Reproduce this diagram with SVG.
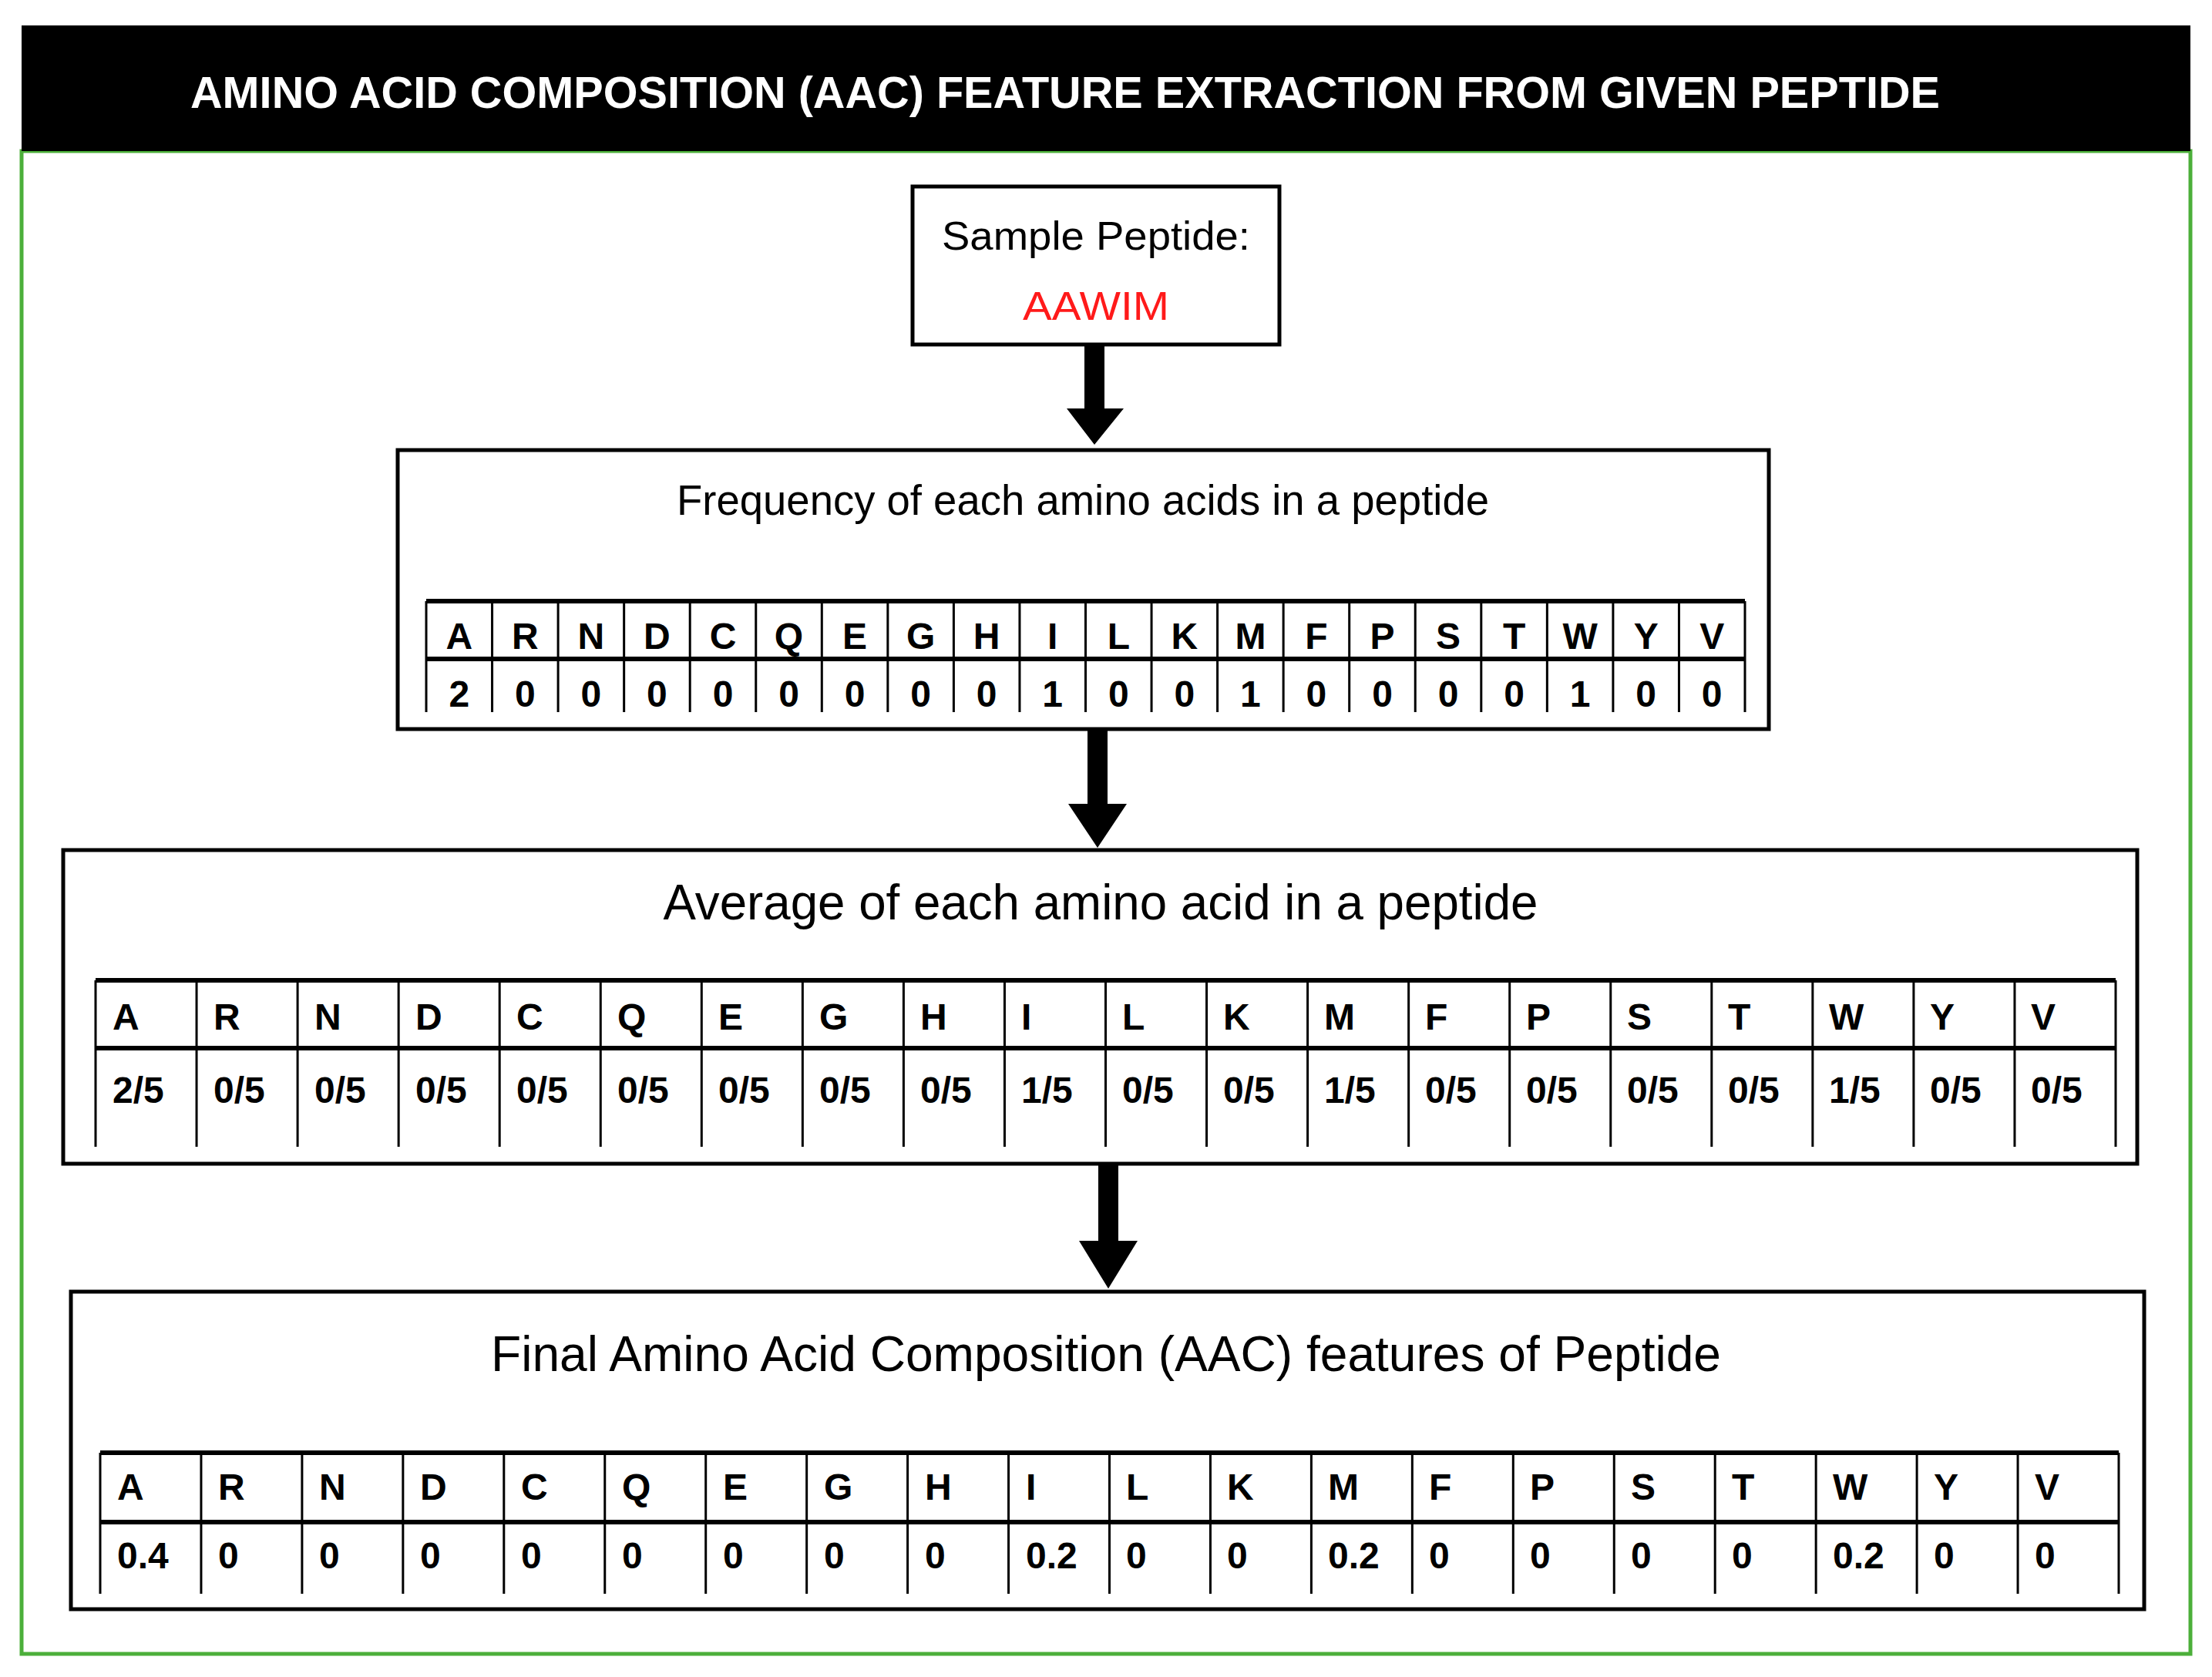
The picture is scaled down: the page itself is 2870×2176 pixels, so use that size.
<svg xmlns="http://www.w3.org/2000/svg" width="2870" height="2176" viewBox="0 0 2870 2176">
<style>
.t{font-family:"Liberation Sans",Arial,sans-serif;fill:#000}
.box{fill:#fff;stroke:#000;stroke-width:5}
.ln{stroke:#000;stroke-width:3}
.th{stroke:#000;stroke-width:6}
.c{font-size:48px;text-anchor:middle;font-weight:bold}
.l{font-size:48px;font-weight:bold}
</style>
<rect x="0" y="0" width="2870" height="2176" fill="#fff"/>
<rect x="28" y="196" width="2814" height="1950" fill="#fff" stroke="#4caf3a" stroke-width="5"/>
<g id="header">
<rect x="28" y="33" width="2814" height="163" fill="#000"/>
<text class="t" x="1382" y="140" font-size="58" font-weight="bold" text-anchor="middle" style="fill:#fff" textLength="2270" lengthAdjust="spacingAndGlyphs">AMINO ACID COMPOSITION (AAC) FEATURE EXTRACTION FROM GIVEN PEPTIDE</text>
</g>
<g id="connectors">
<polygon points="1407,447 1433,447 1433,530 1458,530 1420,577 1384,530 1407,530" fill="#000"/>
<polygon points="1411,946 1437,946 1437,1043 1462,1043 1424,1100 1386,1043 1411,1043" fill="#000"/>
<polygon points="1425,1510 1451,1510 1451,1610 1476,1610 1438,1672 1400,1610 1425,1610" fill="#000"/>
</g>
<g id="sample">
<rect class="box" x="1184" y="242" width="476" height="205"/>
<text class="t" x="1422" y="324" font-size="52" text-anchor="middle" textLength="400" lengthAdjust="spacingAndGlyphs">Sample Peptide:</text>
<text class="t" x="1422" y="415" font-size="52" text-anchor="middle" style="fill:#ff1a1a" textLength="190" lengthAdjust="spacingAndGlyphs">AAWIM</text>
</g>
<g id="frequency">
<rect class="box" x="516" y="584" width="1779" height="362"/>
<text class="t" x="1405" y="668" font-size="56" text-anchor="middle" textLength="1054" lengthAdjust="spacingAndGlyphs">Frequency of each amino acids in a peptide</text>
<line class="th" x1="553" y1="780" x2="2264" y2="780"/>
<line class="th" x1="553" y1="855" x2="2264" y2="855"/>
<path class="ln" d="M553,780V924M638.55,780V924M724.1,780V924M809.65,780V924M895.2,780V924M980.75,780V924M1066.3,780V924M1151.85,780V924M1237.4,780V924M1322.95,780V924M1408.5,780V924M1494.05,780V924M1579.6,780V924M1665.15,780V924M1750.7,780V924M1836.25,780V924M1921.8,780V924M2007.35,780V924M2092.9,780V924M2178.45,780V924M2264,780V924"/>
<text class="t c"><tspan x="595.8" y="842">A</tspan><tspan x="681.3">R</tspan><tspan x="766.9">N</tspan><tspan x="852.4">D</tspan><tspan x="938">C</tspan><tspan x="1023.5">Q</tspan><tspan x="1109.1">E</tspan><tspan x="1194.6">G</tspan><tspan x="1280.2">H</tspan><tspan x="1365.7">I</tspan><tspan x="1451.3">L</tspan><tspan x="1536.8">K</tspan><tspan x="1622.4">M</tspan><tspan x="1707.9">F</tspan><tspan x="1793.5">P</tspan><tspan x="1879">S</tspan><tspan x="1964.6">T</tspan><tspan x="2050.1">W</tspan><tspan x="2135.7">Y</tspan><tspan x="2221.2">V</tspan></text>
<text class="t c"><tspan x="595.8" y="917">2</tspan><tspan x="681.3">0</tspan><tspan x="766.9">0</tspan><tspan x="852.4">0</tspan><tspan x="938">0</tspan><tspan x="1023.5">0</tspan><tspan x="1109.1">0</tspan><tspan x="1194.6">0</tspan><tspan x="1280.2">0</tspan><tspan x="1365.7">1</tspan><tspan x="1451.3">0</tspan><tspan x="1536.8">0</tspan><tspan x="1622.4">1</tspan><tspan x="1707.9">0</tspan><tspan x="1793.5">0</tspan><tspan x="1879">0</tspan><tspan x="1964.6">0</tspan><tspan x="2050.1">1</tspan><tspan x="2135.7">0</tspan><tspan x="2221.2">0</tspan></text>
</g>
<g id="average">
<rect class="box" x="82" y="1103" width="2691" height="407"/>
<text class="t" x="1428" y="1193" font-size="64" text-anchor="middle" textLength="1135" lengthAdjust="spacingAndGlyphs">Average of each amino acid in a peptide</text>
<line class="th" x1="124" y1="1272" x2="2745" y2="1272"/>
<line class="th" x1="124" y1="1360" x2="2745" y2="1360"/>
<path class="ln" d="M124,1272V1488M255.05,1272V1488M386.1,1272V1488M517.15,1272V1488M648.2,1272V1488M779.25,1272V1488M910.3,1272V1488M1041.35,1272V1488M1172.4,1272V1488M1303.45,1272V1488M1434.5,1272V1488M1565.55,1272V1488M1696.6,1272V1488M1827.65,1272V1488M1958.7,1272V1488M2089.75,1272V1488M2220.8,1272V1488M2351.85,1272V1488M2482.9,1272V1488M2613.95,1272V1488M2745,1272V1488"/>
<text class="t l"><tspan x="146" y="1336">A</tspan><tspan x="277">R</tspan><tspan x="408">N</tspan><tspan x="539">D</tspan><tspan x="670">C</tspan><tspan x="801">Q</tspan><tspan x="932">E</tspan><tspan x="1063">G</tspan><tspan x="1194">H</tspan><tspan x="1325">I</tspan><tspan x="1456">L</tspan><tspan x="1587">K</tspan><tspan x="1718">M</tspan><tspan x="1849">F</tspan><tspan x="1980">P</tspan><tspan x="2111">S</tspan><tspan x="2242">T</tspan><tspan x="2373">W</tspan><tspan x="2504">Y</tspan><tspan x="2635">V</tspan></text>
<text class="t l"><tspan x="146" y="1431">2/5</tspan><tspan x="277">0/5</tspan><tspan x="408">0/5</tspan><tspan x="539">0/5</tspan><tspan x="670">0/5</tspan><tspan x="801">0/5</tspan><tspan x="932">0/5</tspan><tspan x="1063">0/5</tspan><tspan x="1194">0/5</tspan><tspan x="1325">1/5</tspan><tspan x="1456">0/5</tspan><tspan x="1587">0/5</tspan><tspan x="1718">1/5</tspan><tspan x="1849">0/5</tspan><tspan x="1980">0/5</tspan><tspan x="2111">0/5</tspan><tspan x="2242">0/5</tspan><tspan x="2373">1/5</tspan><tspan x="2504">0/5</tspan><tspan x="2635">0/5</tspan></text>
</g>
<g id="final">
<rect class="box" x="92" y="1676" width="2690" height="412"/>
<text class="t" x="1435" y="1779" font-size="64" text-anchor="middle" textLength="1596" lengthAdjust="spacingAndGlyphs">Final Amino Acid Composition (AAC) features of Peptide</text>
<line class="th" x1="130" y1="1885" x2="2749" y2="1885"/>
<line class="th" x1="130" y1="1975" x2="2749" y2="1975"/>
<path class="ln" d="M130,1885V2068M260.95,1885V2068M391.9,1885V2068M522.85,1885V2068M653.8,1885V2068M784.75,1885V2068M915.7,1885V2068M1046.65,1885V2068M1177.6,1885V2068M1308.55,1885V2068M1439.5,1885V2068M1570.45,1885V2068M1701.4,1885V2068M1832.35,1885V2068M1963.3,1885V2068M2094.25,1885V2068M2225.2,1885V2068M2356.15,1885V2068M2487.1,1885V2068M2618.05,1885V2068M2749,1885V2068"/>
<text class="t l"><tspan x="152" y="1946">A</tspan><tspan x="283">R</tspan><tspan x="414">N</tspan><tspan x="545">D</tspan><tspan x="676">C</tspan><tspan x="807">Q</tspan><tspan x="938">E</tspan><tspan x="1069">G</tspan><tspan x="1200">H</tspan><tspan x="1331">I</tspan><tspan x="1461">L</tspan><tspan x="1592">K</tspan><tspan x="1723">M</tspan><tspan x="1854">F</tspan><tspan x="1985">P</tspan><tspan x="2116">S</tspan><tspan x="2247">T</tspan><tspan x="2378">W</tspan><tspan x="2509">Y</tspan><tspan x="2640">V</tspan></text>
<text class="t l"><tspan x="152" y="2035">0.4</tspan><tspan x="283">0</tspan><tspan x="414">0</tspan><tspan x="545">0</tspan><tspan x="676">0</tspan><tspan x="807">0</tspan><tspan x="938">0</tspan><tspan x="1069">0</tspan><tspan x="1200">0</tspan><tspan x="1331">0.2</tspan><tspan x="1461">0</tspan><tspan x="1592">0</tspan><tspan x="1723">0.2</tspan><tspan x="1854">0</tspan><tspan x="1985">0</tspan><tspan x="2116">0</tspan><tspan x="2247">0</tspan><tspan x="2378">0.2</tspan><tspan x="2509">0</tspan><tspan x="2640">0</tspan></text>
</g>
</svg>
